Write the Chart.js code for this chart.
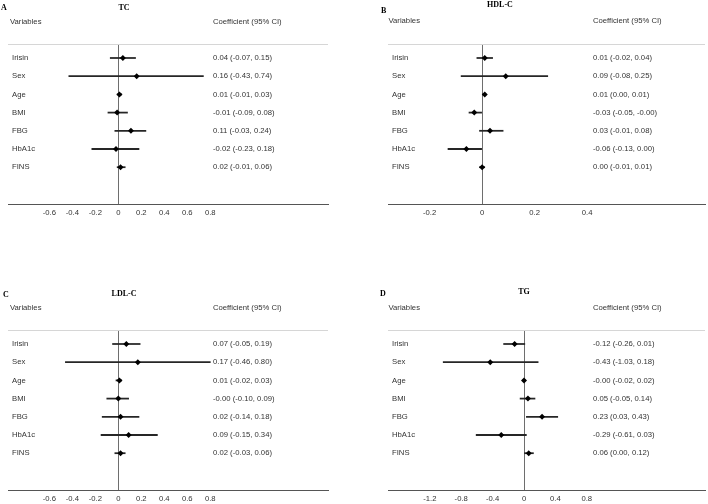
<!DOCTYPE html>
<html>
<head>
<meta charset="utf-8">
<script src="https://cdn.jsdelivr.net/npm/chart.js@4.4.1/dist/chart.umd.min.js"></script>
<style>
  html, body { margin: 0; padding: 0; background: #fff; }
  #wrap { position: relative; width: 708px; height: 504px; overflow: hidden; }
  #wrap canvas { position: absolute; }
</style>
</head>
<body>
<div id="wrap">
  <canvas id="cA" width="354" height="252" style="left:0;top:0"></canvas>
  <canvas id="cB" width="354" height="252" style="left:354px;top:0"></canvas>
  <canvas id="cC" width="354" height="252" style="left:0;top:252px"></canvas>
  <canvas id="cD" width="354" height="252" style="left:354px;top:252px"></canvas>
</div>
<script>
// rows, top to bottom
const variables = ["Irisin", "Sex", "Age", "BMI", "FBG", "HbA1c", "FINS"];

// A: TC
const tcEst  = [0.04, 0.16, 0.01, -0.01, 0.11, -0.02, 0.02];
const tcLow  = [-0.07, -0.43, -0.01, -0.09, -0.03, -0.23, -0.01];
const tcHigh = [0.15, 0.74, 0.03, 0.08, 0.24, 0.18, 0.06];
const tcText = ["0.04 (-0.07, 0.15)", "0.16 (-0.43, 0.74)", "0.01 (-0.01, 0.03)", "-0.01 (-0.09, 0.08)",
                "0.11 (-0.03, 0.24)", "-0.02 (-0.23, 0.18)", "0.02 (-0.01, 0.06)"];

// B: HDL-C
const hdlEst  = [0.01, 0.09, 0.01, -0.03, 0.03, -0.06, 0.00];
const hdlLow  = [-0.02, -0.08, 0.00, -0.05, -0.01, -0.13, -0.01];
const hdlHigh = [0.04, 0.25, 0.01, -0.00, 0.08, 0.00, 0.01];
const hdlText = ["0.01 (-0.02, 0.04)", "0.09 (-0.08, 0.25)", "0.01 (0.00, 0.01)", "-0.03 (-0.05, -0.00)",
                 "0.03 (-0.01, 0.08)", "-0.06 (-0.13, 0.00)", "0.00 (-0.01, 0.01)"];

// C: LDL-C
const ldlEst  = [0.07, 0.17, 0.01, -0.00, 0.02, 0.09, 0.02];
const ldlLow  = [-0.05, -0.46, -0.02, -0.10, -0.14, -0.15, -0.03];
const ldlHigh = [0.19, 0.80, 0.03, 0.09, 0.18, 0.34, 0.06];
const ldlText = ["0.07 (-0.05, 0.19)", "0.17 (-0.46, 0.80)", "0.01 (-0.02, 0.03)", "-0.00 (-0.10, 0.09)",
                 "0.02 (-0.14, 0.18)", "0.09 (-0.15, 0.34)", "0.02 (-0.03, 0.06)"];

// D: TG
const tgEst  = [-0.12, -0.43, -0.00, 0.05, 0.23, -0.29, 0.06];
const tgLow  = [-0.26, -1.03, -0.02, -0.05, 0.03, -0.61, 0.00];
const tgHigh = [0.01, 0.18, 0.02, 0.14, 0.43, 0.03, 0.12];
const tgText = ["-0.12 (-0.26, 0.01)", "-0.43 (-1.03, 0.18)", "-0.00 (-0.02, 0.02)", "0.05 (-0.05, 0.14)",
                "0.23 (0.03, 0.43)", "-0.29 (-0.61, 0.03)", "0.06 (0.00, 0.12)"];

// x tick labels
const ticksAC = [-0.6, -0.4, -0.2, 0, 0.2, 0.4, 0.6, 0.8];
const ticksB  = [-0.2, 0, 0.2, 0.4];
const ticksD  = [-1.2, -0.8, -0.4, 0, 0.4, 0.8];

const SANS = '"Liberation Sans", Arial, sans-serif';
const SERIF = '"Liberation Serif", "Times New Roman", serif';

// panel letter, title, column headers and the light rule above the rows
const headerPlugin = {
  id: "header",
  afterDraw(chart, args, o) {
    const { ctx, chartArea: a } = chart;
    ctx.save();
    ctx.strokeStyle = "#d6d6d6";
    ctx.lineWidth = 1;
    ctx.beginPath();
    ctx.moveTo(a.left, Math.round(a.top) + 0.5);
    ctx.lineTo(a.right, Math.round(a.top) + 0.5);
    ctx.stroke();

    ctx.textBaseline = "middle";
    ctx.fillStyle = "#000";
    ctx.font = "bold 8px " + SERIF;
    ctx.textAlign = "left";
    ctx.fillText(o.letter, o.letterX, o.letterY);
    ctx.textAlign = "center";
    ctx.fillText(o.title, o.titleX, o.titleY);

    ctx.fillStyle = "#333";
    ctx.font = "7.7px " + SANS;
    ctx.textAlign = "left";
    ctx.fillText("Variables", o.varX, o.headY);
    ctx.fillText("Coefficient (95% CI)", o.ciX, o.headY);
    ctx.restore();
  }
};

function forest(p) {
  const rows = variables.map((_, i) => i);
  // row axes: labels drawn inside the plot (mirror), no width and no
  // label padding pushed into the layout. offset:false because the bar
  // chart defaults give the index axis a half-band offset.
  const yBase = {
    type: "linear", position: "left", reverse: true, offset: false, min: -0.769, max: 8.022,
    grid: { display: false }, border: { display: false },
    afterBuildTicks: s => { s.ticks = rows.map(v => ({ value: v })) },
    afterFit: s => { s.width = 0; s.paddingTop = 0; s.paddingBottom = 0 }
  };

  return new Chart(document.getElementById(p.id), {
    type: "bar",
    data: {
      datasets: [
        {
          type: "scatter",
          data: rows.map(i => ({ x: p.est[i], y: i })),
          pointStyle: "rectRot", pointRadius: 3, pointHoverRadius: 3,
          backgroundColor: "#000", borderColor: "#000", borderWidth: 0
        },
        {
          type: "bar",
          data: rows.map(i => ({ x: [p.low[i], p.high[i]], y: i })),
          backgroundColor: "#262626", borderWidth: 0, barThickness: 1.1
        }
      ]
    },
    options: {
      indexAxis: "y",
      responsive: false,
      animation: false,
      devicePixelRatio: 1,
      layout: { padding: { left: p.left, right: 354 - p.right, top: p.top, bottom: 0 } },
      plugins: {
        legend: { display: false },
        tooltip: { enabled: false },
        header: p.head
      },
      scales: {
        x: {
          type: "linear", position: "bottom", offset: false, min: p.xMin, max: p.xMax,
          afterBuildTicks: s => { s.ticks = p.ticks.map(v => ({ value: v })) },
          afterFit: s => { s.height = 252 - p.bottom; s.paddingLeft = 0; s.paddingRight = 0 },
          grid: {
            drawTicks: false, lineWidth: 1,
            color: c => (c.tick && c.tick.value === 0 ? "#6e6e6e" : "rgba(0,0,0,0)")
          },
          border: { display: true, color: "#555", width: 1 },
          ticks: {
            padding: 4.4, color: "#333", font: { family: SANS, size: 7.7 },
            callback: v => String(Number(v.toFixed(1)))
          }
        },
        y: Object.assign({}, yBase, {
          ticks: { mirror: true, padding: 4, color: "#333", font: { family: SANS, size: 7.7 },
                   callback: v => variables[v] }
        }),
        yCI: Object.assign({}, yBase, {
          ticks: { mirror: true, padding: 205, color: "#333", font: { family: SANS, size: 7.7 },
                   callback: v => p.ci[v] }
        })
      }
    },
    plugins: [headerPlugin]
  });
}

forest({
  id: "cA", est: tcEst, low: tcLow, high: tcHigh, ci: tcText, ticks: ticksAC,
  left: 8, right: 328, top: 44, bottom: 204, xMin: -0.959, xMax: 1.8235,
  head: { letter: "A", letterX: 1, letterY: 7.5, title: "TC", titleX: 124, titleY: 7.5,
          varX: 10, ciX: 213, headY: 21.5 }
});
forest({
  id: "cB", est: hdlEst, low: hdlLow, high: hdlHigh, ci: hdlText, ticks: ticksB,
  left: 34, right: 354, top: 44, bottom: 204, xMin: -0.3585, xMax: 0.849,
  head: { letter: "B", letterX: 27, letterY: 10.5, title: "HDL-C", titleX: 146, titleY: 4.5,
          varX: 34.5, ciX: 239, headY: 21 }
});
forest({
  id: "cC", est: ldlEst, low: ldlLow, high: ldlHigh, ci: ldlText, ticks: ticksAC,
  left: 8, right: 328, top: 78, bottom: 238, xMin: -0.959, xMax: 1.8235,
  head: { letter: "C", letterX: 3, letterY: 43, title: "LDL-C", titleX: 124, titleY: 41.5,
          varX: 10, ciX: 213, headY: 56 }
});
forest({
  id: "cD", est: tgEst, low: tgLow, high: tgHigh, ci: tgText, ticks: ticksD,
  left: 34, right: 354, top: 78, bottom: 238, xMin: -1.7336, xMax: 2.3068,
  head: { letter: "D", letterX: 26, letterY: 42, title: "TG", titleX: 170, titleY: 40,
          varX: 34.5, ciX: 239, headY: 56 }
});
</script>
</body>
</html>
